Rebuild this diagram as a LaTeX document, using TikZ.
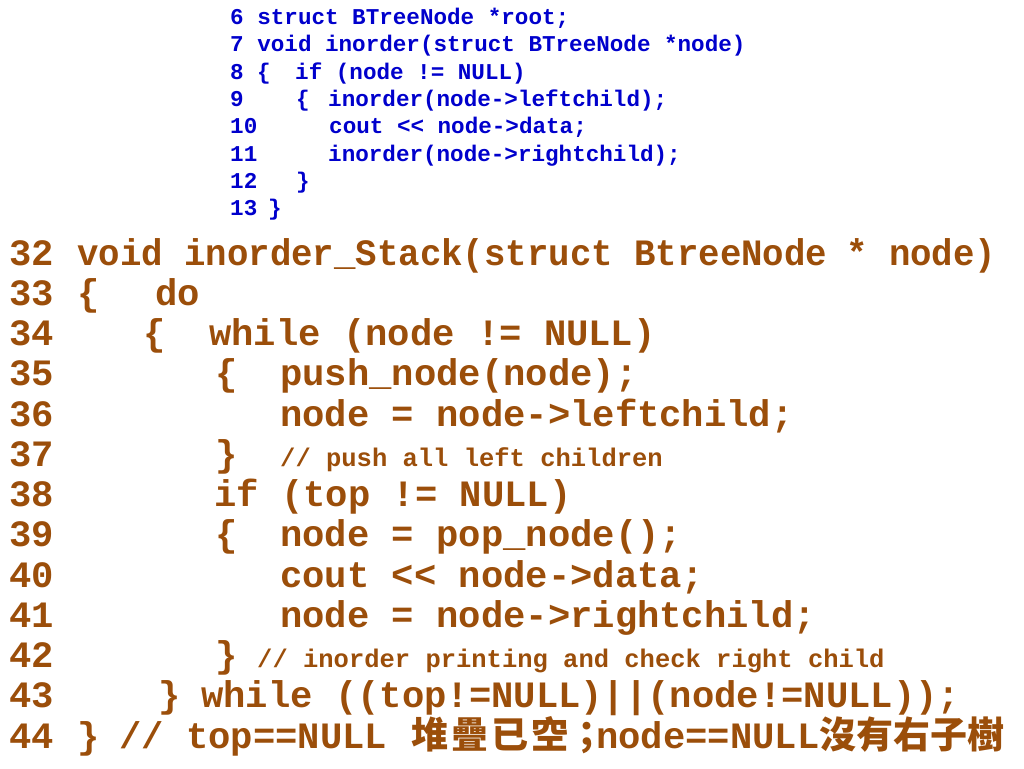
\documentclass[tikz,border=0pt]{standalone}
\usepackage{fontspec}
\usepackage{tikz}
\usepackage{xcolor}
\newfontfamily\codefont{Liberation Mono}
\newfontfamily\cjkfont{Noto Sans CJK TC}
\definecolor{codeblue}{RGB}{0,0,204}
\definecolor{codebrown}{RGB}{155,78,10}

\begin{document}
\begin{tikzpicture}[x=1pt,y=-1pt,
		small/.style={anchor=base west,inner sep=0pt,text=codeblue,font=\codefont\bfseries\fontsize{22.6}{27}\selectfont},
		big/.style={anchor=base west,inner sep=0pt,text=codebrown,font=\codefont\bfseries\fontsize{37.2}{40}\selectfont},
		note/.style={anchor=base west,inner sep=0pt,text=codebrown,font=\codefont\bfseries\fontsize{25.5}{27}\selectfont},
		han/.style={anchor=base west,inner sep=0pt,text=codebrown,font=\cjkfont\bfseries\fontsize{37}{40}\selectfont}]
		\useasboundingbox (0,0) rectangle (1024,768);
		% recursive version
		\draw (230, 24.5) node[small] (b6) {6 struct BTreeNode *root;};
		\draw (230, 51.8) node[small] (b7) {7 void inorder(struct BTreeNode *node)};
		\draw (230, 79.1) node[small] (b8) {8};
		\draw (257, 79.1) node[small] (b8a) {\{};
		\draw (295, 79.1) node[small] (b8b) {if (node != NULL)};
		\draw (230, 106.4) node[small] (b9) {9};
		\draw (296, 106.4) node[small] (b9a) {\{};
		\draw (328, 106.4) node[small] (b9b) {inorder(node->leftchild);};
		\draw (230, 133.7) node[small] (b10) {10};
		\draw (329, 133.7) node[small] (b10b) {cout {<}{<} node->data;};
		\draw (230, 161) node[small] (b11) {11};
		\draw (328, 161) node[small] (b11b) {inorder(node->rightchild);};
		\draw (230, 188.3) node[small] (b12) {12};
		\draw (296, 188.3) node[small] (b12a) {\}};
		\draw (230, 215.6) node[small] (b13) {13};
		\draw (268, 215.6) node[small] (b13a) {\}};
		% stack version
		\draw (9, 265) node[big] (s32) {32};
		\draw (77, 265) node[big] (s32a) {\scalebox{0.96}[1]{void inorder\_Stack(struct BtreeNode}};
		\draw (846, 265) node[big] (s32b) {\scalebox{0.96}[1]{* node)}};
		\draw (9, 305.25) node[big] (s33) {33};
		\draw (77, 305.25) node[big] (s33a) {\{};
		\draw (155, 305.25) node[big] (s33b) {do};
		\draw (9, 345.5) node[big] (s34) {34};
		\draw (143, 345.5) node[big] (s34a) {\{};
		\draw (209, 345.5) node[big] (s34b) {while (node != NULL)};
		\draw (9, 385.75) node[big] (s35) {35};
		\draw (215, 385.75) node[big] (s35a) {\{};
		\draw (280, 385.75) node[big] (s35b) {push\_node(node);};
		\draw (9, 426) node[big] (s36) {36};
		\draw (280, 426) node[big] (s36b) {node = node->leftchild;};
		\draw (9, 466.25) node[big] (s37) {37};
		\draw (215, 466.25) node[big] (s37a) {\}};
		\draw (280, 466.25) node[note] (s37b) {// push all left children};
		\draw (9, 506.5) node[big] (s38) {38};
		\draw (214, 506.5) node[big] (s38b) {if (top != NULL)};
		\draw (9, 546.75) node[big] (s39) {39};
		\draw (215, 546.75) node[big] (s39a) {\{};
		\draw (280, 546.75) node[big] (s39b) {node = pop\_node();};
		\draw (9, 587) node[big] (s40) {40};
		\draw (280, 587) node[big] (s40b) {cout {<}{<} node->data;};
		\draw (9, 627.25) node[big] (s41) {41};
		\draw (280, 627.25) node[big] (s41b) {node = node->rightchild;};
		\draw (9, 667.5) node[big] (s42) {42};
		\draw (215, 667.5) node[big] (s42a) {\}};
		\draw (257, 667.5) node[note] (s42b) {// inorder printing and check right child};
		\draw (9, 707.75) node[big] (s43) {43};
		\draw (158, 707.75) node[big] (s43a) {\}};
		\draw (201, 707.75) node[big] (s43b) {while ((top!=NULL)||(node!=NULL));};
		\draw (9, 748) node[big] (s44) {44};
		\draw (77, 748) node[big] (s44a) {\}};
		\draw (119, 748) node[big] (s44b) {// top==NULL};
		\draw (411, 748) node[han] (s44c) {堆\hspace{3pt}疊\hspace{3pt}已\hspace{3pt}空};
		\draw (568, 748) node[han] (s44d) {；};
		\draw (596, 748) node[big] (s44e) {node==NULL};
		\draw (819, 748) node[han] (s44f) {沒有右子樹};
	\end{tikzpicture}
\end{document}
